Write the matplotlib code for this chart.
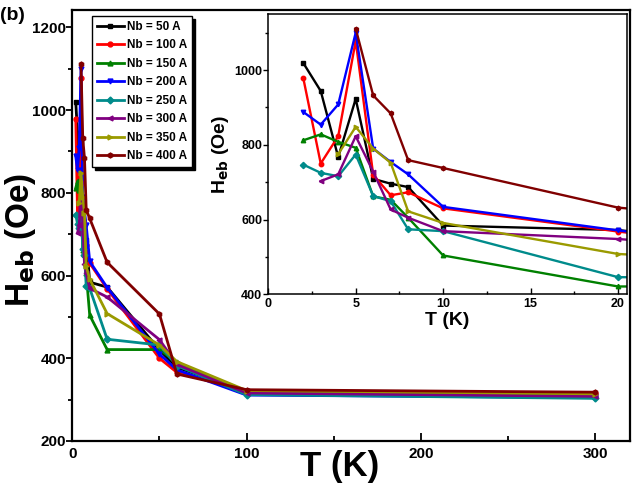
import matplotlib
matplotlib.use('Agg')
import matplotlib.pyplot as plt
from matplotlib.ticker import MultipleLocator

plt.rcParams['font.family'] = ['Liberation Sans', 'DejaVu Sans']
plt.rcParams['font.weight'] = 'bold'

# temperatures (K)
t_all = [2, 3, 4, 5, 6, 7, 8, 10, 20, 50, 60, 100, 300]

# exchange bias field (Oe) per Nb thickness
heb_50 = [1019, 944, 767, 923, 709, 696, 687, 584, 572, 420, 378, 320, 313]
heb_100 = [979, 750, 823, 1078, 720, 665, 673, 630, 568, 400, 366, 322, 315]
heb_150 = [812, 828, 808, 792, 662, 653, 605, 504, 421, 421, 390, 318, 310]
heb_200 = [888, 854, 908, 1100, 790, 754, 721, 634, 571, 410, 372, 311, 305]
heb_250 = [747, 725, 716, 774, 663, 649, 574, 569, 446, 432, 382, 312, 303]
t_300 = [3, 4, 5, 6, 7, 8, 10, 20, 50, 60, 100, 300]
heb_300 = [703, 721, 823, 728, 627, 605, 569, 548, 445, 385, 316, 308]
t_350 = [4, 5, 6, 7, 8, 10, 20, 50, 60, 100, 300]
heb_350 = [775, 848, 790, 752, 622, 591, 508, 432, 392, 322, 314]
t_400 = [5, 6, 7, 8, 10, 20, 50, 60, 100, 300]
heb_400 = [1111, 932, 884, 759, 738, 632, 507, 362, 324, 318]

labels = ['Nb = 50 A', 'Nb = 100 A', 'Nb = 150 A', 'Nb = 200 A',
          'Nb = 250 A', 'Nb = 300 A', 'Nb = 350 A', 'Nb = 400 A']
colors = ['#000000', '#ff0000', '#008000', '#0000ff',
          '#008b8b', '#800080', '#9a9a00', '#800000']
markers = ['s', 'o', '^', 'v', 'D', '<', '>', 'h']

series = [(t_all, heb_50), (t_all, heb_100), (t_all, heb_150), (t_all, heb_200),
          (t_all, heb_250), (t_300, heb_300), (t_350, heb_350), (t_400, heb_400)]


def main():
    fig = plt.figure(figsize=(6.38, 4.93), dpi=100)

    # main axes
    ax = fig.add_axes([0.1133, 0.1055, 0.8742, 0.8742])
    for (t, h), lab, c, m in zip(series, labels, colors, markers):
        ax.plot(t, h, color=c, marker=m, ms=3.5, lw=2, label=lab)

    ax.set_xlim(0, 320)
    ax.set_ylim(200, 1242)
    ax.xaxis.set_major_locator(MultipleLocator(100))
    ax.xaxis.set_minor_locator(MultipleLocator(50))
    ax.yaxis.set_major_locator(MultipleLocator(200))
    ax.yaxis.set_minor_locator(MultipleLocator(100))
    ax.tick_params(axis='x', which='both', direction='in', labelsize=11, pad=4)
    ax.tick_params(axis='x', which='major', length=6, width=1.3)
    ax.tick_params(axis='x', which='minor', length=3.5, width=1.3)
    ax.tick_params(axis='y', which='both', direction='out', labelsize=11, pad=0.5)
    ax.tick_params(axis='y', which='major', length=4, width=1.3)
    ax.tick_params(axis='y', which='minor', length=3, width=1.3)
    for sp in ax.spines.values():
        sp.set_linewidth(1.6)
    ax.set_xlabel('T (K)', fontsize=25, fontweight='bold')
    ax.xaxis.set_label_coords(0.48, -0.02)
    ax.set_ylabel(r'H$_{\mathbf{eb}}$ (Oe)', fontsize=24, fontweight='bold')
    ax.yaxis.set_label_coords(-0.062, 0.467)

    leg = ax.legend(loc='upper left', bbox_to_anchor=(0.035, 0.986), borderaxespad=0,
                    prop={'weight': 'bold', 'size': 8.5}, numpoints=1,
                    handlelength=2.3, handletextpad=0.3, labelspacing=0.55,
                    borderpad=0.4, fancybox=False, framealpha=1,
                    shadow={'color': 'black', 'alpha': 1})
    leg.get_frame().set_edgecolor('black')
    leg.get_frame().set_linewidth(1.0)

    fig.text(0.0, 0.985, '(b)', fontsize=14, fontweight='bold', va='top', ha='left')

    # inset
    ins = fig.add_axes([0.4205, 0.403, 0.5618, 0.5686])
    ins.set_facecolor('white')
    for (t, h), c, m in zip(series, colors, markers):
        ins.plot(t, h, color=c, marker=m, ms=3.2, lw=1.7)
    ins.set_xlim(0, 20.5)
    ins.set_ylim(400, 1150)
    ins.xaxis.set_major_locator(MultipleLocator(5))
    ins.xaxis.set_minor_locator(MultipleLocator(2.5))
    ins.yaxis.set_major_locator(MultipleLocator(200))
    ins.yaxis.set_minor_locator(MultipleLocator(100))
    ins.tick_params(axis='x', which='both', direction='in', labelsize=9, pad=3)
    ins.tick_params(axis='x', which='major', length=4, width=1)
    ins.tick_params(axis='x', which='minor', length=2.5, width=1)
    ins.tick_params(axis='y', which='both', direction='out', labelsize=9, pad=1)
    ins.tick_params(axis='y', which='major', length=3.5, width=1)
    ins.tick_params(axis='y', which='minor', length=2.5, width=1)
    for sp in ins.spines.values():
        sp.set_linewidth(1.1)
    ins.set_xlabel('T (K)', fontsize=14, fontweight='bold', labelpad=1)
    ins.set_ylabel(r'H$_{\mathbf{eb}}$ (Oe)', fontsize=14, fontweight='bold', labelpad=2)

    fig.savefig('out.png', dpi=100)


if __name__ == '__main__':
    main()
